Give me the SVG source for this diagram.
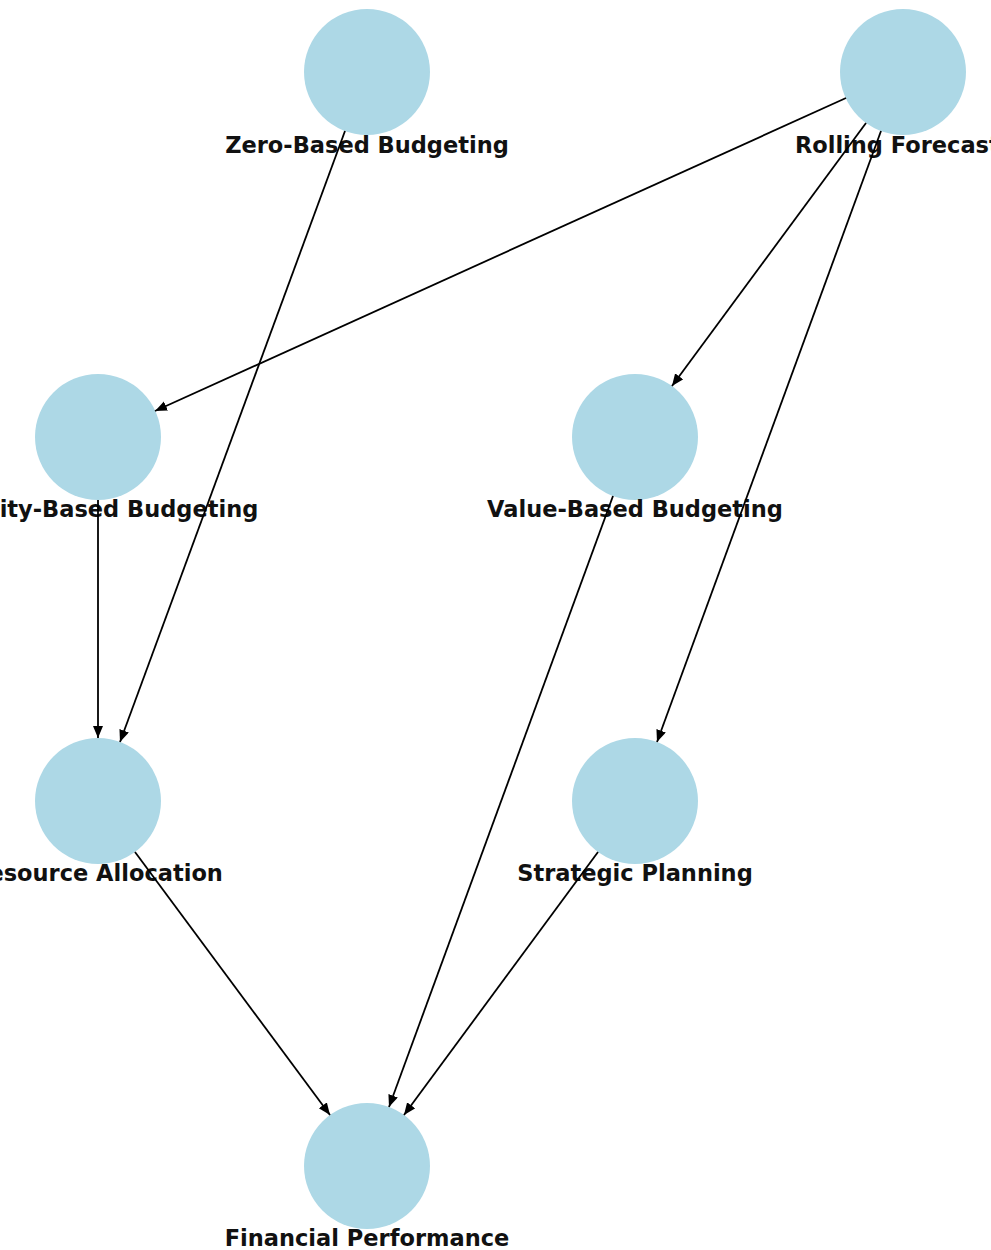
<svg xmlns="http://www.w3.org/2000/svg" width="991" height="1250" viewBox="0 0 991 1250">
<style>
.node circle { fill: #ADD8E6; }
.node text { font-family: "DejaVu Sans", "Liberation Sans", sans-serif; font-weight: bold; font-size: 22.5px; fill: #111; text-anchor: middle; }
.edge { stroke: #000; stroke-width: 1.8; fill: none; marker-end: url(#arrow); }
</style>
<defs>
<marker id="arrow" markerUnits="userSpaceOnUse" markerWidth="14" markerHeight="12" refX="12" refY="5" orient="auto">
<path d="M0,0 L12,5 L0,10 Z" fill="#000"/>
</marker>
</defs>
<rect width="991" height="1250" fill="#fff"/>
<g id="n-zero" class="node"><circle cx="367" cy="72" r="63"/><text x="367" y="153">Zero-Based Budgeting</text></g>
<g id="n-rolling" class="node"><circle cx="903" cy="72" r="63"/><text x="904" y="153">Rolling Forecasts</text></g>
<g id="n-activity" class="node"><circle cx="98" cy="437" r="63"/><text x="97" y="517">Activity-Based Budgeting</text></g>
<g id="n-value" class="node"><circle cx="635" cy="437" r="63"/><text x="635" y="517">Value-Based Budgeting</text></g>
<g id="n-resource" class="node"><circle cx="98" cy="801" r="63"/><text x="97" y="881">Resource Allocation</text></g>
<g id="n-strategic" class="node"><circle cx="635" cy="801" r="63"/><text x="635" y="881">Strategic Planning</text></g>
<g id="n-financial" class="node"><circle cx="367" cy="1166" r="63"/><text x="367" y="1246">Financial Performance</text></g>
<g id="connectors">
<line class="edge" x1="345" y1="131" x2="120" y2="742"/>
<line class="edge" x1="846" y1="98" x2="155" y2="411"/>
<line class="edge" x1="866" y1="123" x2="672" y2="386"/>
<line class="edge" x1="881" y1="131" x2="657" y2="742"/>
<line class="edge" x1="98" y1="500" x2="98" y2="738"/>
<line class="edge" x1="613" y1="496" x2="389" y2="1107"/>
<line class="edge" x1="135" y1="852" x2="330" y2="1115"/>
<line class="edge" x1="598" y1="852" x2="404" y2="1115"/>
</g>
</svg>
